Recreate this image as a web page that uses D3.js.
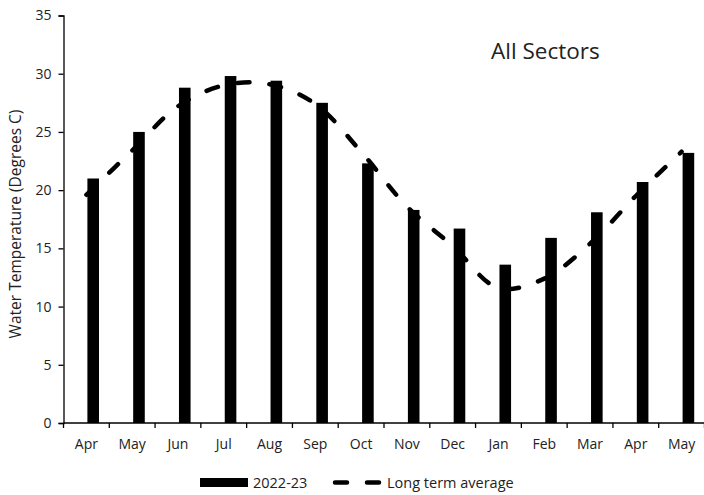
<!DOCTYPE html>
<html>
<head>
<meta charset="utf-8">
<script src="https://cdn.jsdelivr.net/npm/d3@7"></script>
<style>
  html, body { margin: 0; padding: 0; background: #fff; }
  svg { display: block; font-family: "Open Sans", Carlito, Calibri, sans-serif; }
</style>
</head>
<body>
<svg id="chart" width="704" height="495"></svg>
<script>
// Monthly water temperature, all sectors
const months = ["Apr", "May", "Jun", "Jul", "Aug", "Sep", "Oct", "Nov", "Dec", "Jan", "Feb", "Mar", "Apr", "May"];
const season2022 = [21.0, 25.0, 28.8, 29.8, 29.4, 27.5, 22.3, 18.3, 16.7, 13.6, 15.9, 18.1, 20.7, 23.2];
const longTermAverage = [19.6, 23.4, 27.2, 29.0, 29.1, 27.4, 23.3, 18.6, 15.2, 11.6, 12.4, 15.4, 19.5, 23.3];
const yTicks = [0, 5, 10, 15, 20, 25, 30, 35];
const seriesNames = ["2022-23", "Long term average"];
const chartTitle = "All Sectors";
const yAxisTitle = "Water Temperature (Degrees C)";

const FONT = "'Open Sans', Carlito, Calibri, sans-serif";
const TEXT = "#222";

const svg = d3.select("#chart");
const plotLeft = 63.5, plotRight = 704.5, plotTop = 15.5, plotBottom = 423;

const x = d3.scaleBand().domain(d3.range(months.length)).range([plotLeft, plotRight]);
const y = d3.scaleLinear().domain([0, 35]).range([plotBottom, plotTop]);

const centre = i => x(i) + x.bandwidth() / 2;

// Bars (drawn just right of each category centre)
svg.append("g").selectAll("rect")
  .data(season2022)
  .join("rect")
  .attr("x", (d, i) => centre(i) + 1)
  .attr("width", 11.6)
  .attr("y", d => y(d))
  .attr("height", d => y(0) - y(d))
  .attr("fill", "#000");

// Long-term average, smoothed dashed line
const line = d3.line()
  .x((d, i) => centre(i))
  .y(d => y(d))
  .curve(d3.curveCatmullRom.alpha(0.5));

svg.append("path")
  .datum(longTermAverage)
  .attr("d", line)
  .attr("fill", "none")
  .attr("stroke", "#000")
  .attr("stroke-width", 4.5)
  .attr("stroke-linecap", "round")
  .attr("stroke-dasharray", "12,20");

// Y axis
const yAxis = svg.append("g")
  .attr("transform", `translate(${plotLeft},0)`)
  .call(d3.axisLeft(y).tickValues(yTicks).tickSize(5).tickPadding(7));
yAxis.select(".domain").attr("stroke", "#000").attr("stroke-width", 1.3);
yAxis.selectAll(".tick line").attr("stroke", "#000").attr("stroke-width", 1.3);
yAxis.selectAll(".tick text").attr("font-size", 14).attr("fill", TEXT)
  .attr("font-family", FONT);

// X axis: ticks at category boundaries
const xAxisG = svg.append("g").attr("transform", `translate(0,${plotBottom})`);
xAxisG.append("line")
  .attr("x1", plotLeft).attr("x2", plotRight)
  .attr("stroke", "#000").attr("stroke-width", 1.3);
xAxisG.selectAll("line.tick")
  .data(d3.range(months.length + 1))
  .join("line")
  .attr("class", "tick")
  .attr("x1", i => i < months.length ? x(i) : plotRight)
  .attr("x2", i => i < months.length ? x(i) : plotRight)
  .attr("y1", 0).attr("y2", 5)
  .attr("stroke", "#000").attr("stroke-width", 1.3);
xAxisG.selectAll("text")
  .data(months)
  .join("text")
  .attr("x", (d, i) => centre(i))
  .attr("y", 26)
  .attr("text-anchor", "middle")
  .attr("font-size", 14)
  .attr("fill", TEXT)
  .text(d => d);

// Axis title
svg.append("text")
  .attr("transform", `translate(21,224) rotate(-90)`)
  .attr("text-anchor", "middle")
  .attr("font-size", 15.5)
  .attr("fill", TEXT)
  .text(yAxisTitle);

// Chart title
svg.append("text")
  .attr("x", 491)
  .attr("y", 59)
  .attr("font-size", 22.5)
  .attr("fill", TEXT)
  .text(chartTitle);

// Legend
const legend = svg.append("g");
legend.append("rect")
  .attr("x", 200).attr("y", 478).attr("width", 48).attr("height", 9)
  .attr("fill", "#000");
legend.append("text")
  .attr("x", 253).attr("y", 487.5)
  .attr("font-size", 14.5).attr("fill", TEXT)
  .text(seriesNames[0]);
legend.append("line")
  .attr("x1", 335).attr("x2", 380)
  .attr("y1", 482.5).attr("y2", 482.5)
  .attr("stroke", "#000").attr("stroke-width", 4.5)
  .attr("stroke-linecap", "round")
  .attr("stroke-dasharray", "12,20");
legend.append("text")
  .attr("x", 387).attr("y", 487.5)
  .attr("font-size", 14.5).attr("fill", TEXT)
  .text(seriesNames[1]);
</script>
</body>
</html>
